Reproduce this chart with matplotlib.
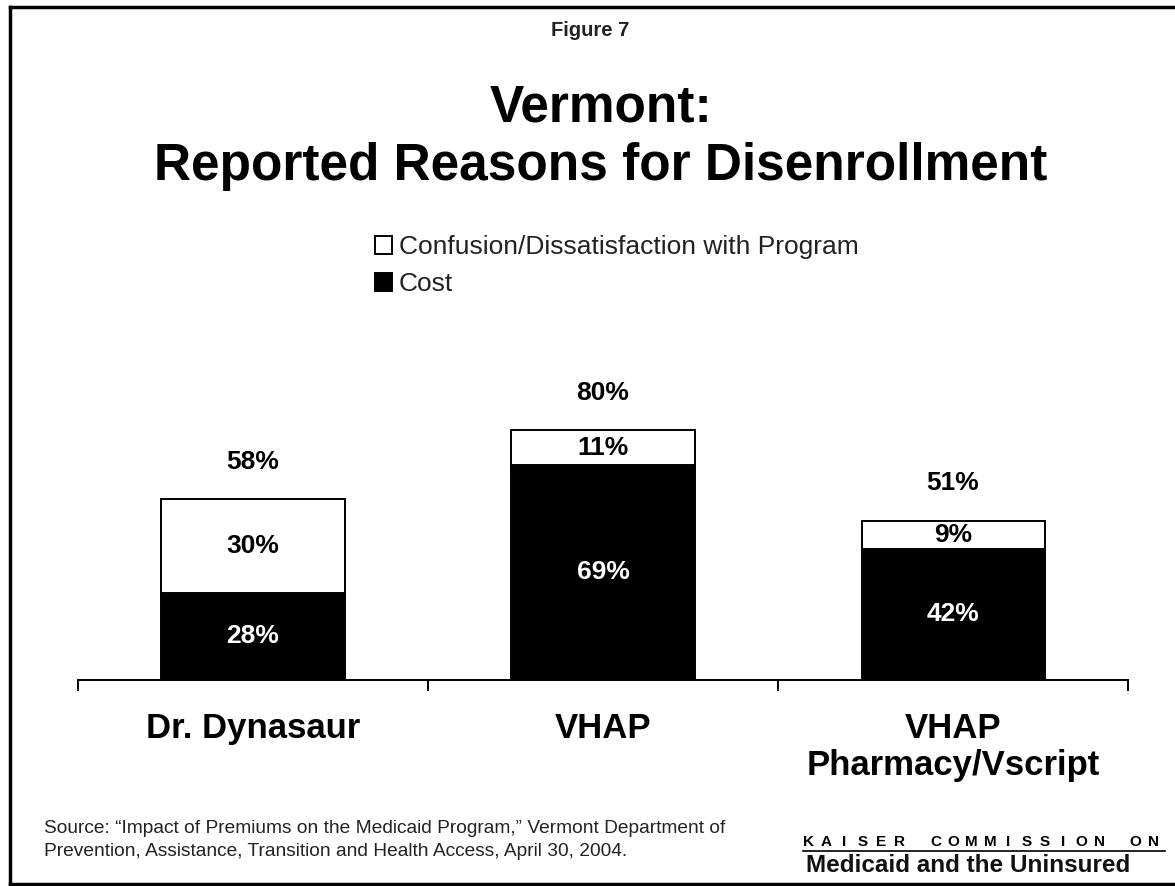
import matplotlib.pyplot as plt
from matplotlib.lines import Line2D

plt.rcParams['font.family'] = ['Liberation Sans', 'DejaVu Sans']

categories = ['Dr. Dynasaur', 'VHAP', 'VHAP\nPharmacy/Vscript']
cost = [28, 69, 42]
confusion = [30, 11, 9]
totals = [58, 80, 51]

W, H = 1175, 886
fig = plt.figure(figsize=(W / 100, H / 100), dpi=100)
fig.patch.set_facecolor('white')

ax = fig.add_axes([78 / W, 1 - 680 / H, 1050 / W, 312 / H])
x = [i + 0.5 for i in range(len(categories))]
bw = 183 / 350

b_cost = ax.bar(x, cost, width=bw, color='black', edgecolor='black', linewidth=1.4,
                label='Cost')
b_conf = ax.bar(x, confusion, width=bw, bottom=cost, color='white', edgecolor='black',
                linewidth=1.4, label='Confusion/Dissatisfaction with Program')

for xi, c, f, t in zip(x, cost, confusion, totals):
    ax.text(xi, c / 2, f'{c}%', ha='center', va='center', color='white',
            fontsize=19, fontweight='bold')
    ax.text(xi, c + f / 2, f'{f}%', ha='center', va='center', color='black',
            fontsize=19, fontweight='bold')
    ax.annotate(f'{t}%', xy=(xi, t), xytext=(0, 27), textcoords='offset points',
                ha='center', va='center', fontsize=19, fontweight='bold')

ax.set_xlim(0, len(categories))
ax.set_ylim(0, 100)
for s in ['left', 'right', 'top']:
    ax.spines[s].set_visible(False)
ax.spines['bottom'].set_linewidth(1.4)
ax.set_yticks([])
ax.set_xticks(range(len(categories) + 1))
ax.set_xticklabels([])
ax.tick_params(axis='x', which='major', direction='out', length=8, width=1.4)
ax.set_xticks(x, minor=True)
ax.set_xticklabels(categories, minor=True, fontsize=25, fontweight='bold',
                   linespacing=1.15, va='top')
ax.tick_params(axis='x', which='minor', length=0, pad=23)

leg = ax.legend(handles=[b_conf, b_cost], loc='upper left',
                bbox_to_anchor=(375 / W, 1 - 235 / H), bbox_transform=fig.transFigure,
                frameon=False, fontsize=19, handlelength=0.65, handleheight=0.65,
                handletextpad=0.25, labelspacing=0.5, borderpad=0, borderaxespad=0)
for t in leg.get_texts():
    t.set_color('#222222')

fig.text(590 / W, 1 - 30 / H, 'Figure 7', ha='center', va='center', fontsize=14.5,
         fontweight='bold', color='#222222')
fig.text(601 / W, 1 - 137 / H, 'Vermont:\nReported Reasons for Disenrollment',
         ha='center', va='center', fontsize=37, fontweight='bold', linespacing=1.25)

fig.text(44 / W, 1 - 840 / H,
         'Source: \u201cImpact of Premiums on the Medicaid Program,\u201d Vermont Department of\n'
         'Prevention, Assistance, Transition and Health Access, April 30, 2004.',
         ha='left', va='center', fontsize=13.8, linespacing=1.45, color='#222222')

# spaced-out letters of the logo line
logo_words = ['KAISER', 'COMMISSION', 'ON']
pitch = 18.2
px = 808
for word in logo_words:
    for ch in word:
        fig.text(px / W, 1 - 842 / H, ch, ha='center', va='center', fontsize=11,
                 fontweight='bold')
        px += pitch
    px += pitch
fig.add_artist(Line2D([803 / W, 1165 / W], [1 - 851 / H, 1 - 851 / H],
                      color='black', linewidth=1.2))
fig.text(968 / W, 1 - 866 / H, 'Medicaid and the Uninsured', ha='center', va='center',
         fontsize=17.5, fontweight='bold', color='#111111')

# frame around the slide (right edge cut off)
frame = dict(color='black', linewidth=2.5)
fig.add_artist(Line2D([10 / W, 10 / W], [1 - 7 / H, 1 - 884 / H], **frame))
fig.add_artist(Line2D([10 / W, 1], [1 - 7 / H, 1 - 7 / H], **frame))
fig.add_artist(Line2D([10 / W, 1], [1 - 884 / H, 1 - 884 / H], **frame))

fig.savefig('out.png', dpi=100)
